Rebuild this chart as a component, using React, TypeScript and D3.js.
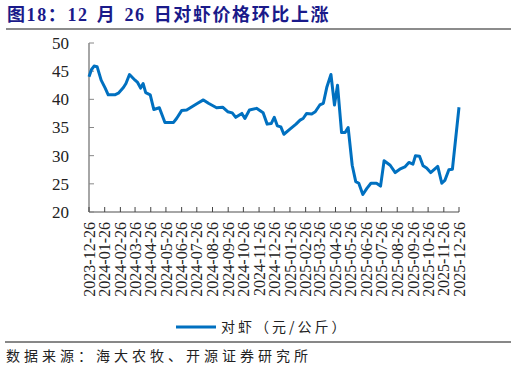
import React, { useRef, useEffect } from 'react';
import * as d3 from 'd3';

// 对虾价格（元/公斤），按日期读取的折线拐点
const dates = [
  '2023-12-26', '2023-12-31', '2024-01-05', '2024-01-11', '2024-01-19', '2024-01-27',
  '2024-02-02', '2024-02-15', '2024-02-22', '2024-03-03', '2024-03-08', '2024-03-15',
  '2024-03-26', '2024-03-31', '2024-04-06', '2024-04-11', '2024-04-16', '2024-04-25',
  '2024-05-02', '2024-05-13', '2024-05-24', '2024-06-10', '2024-06-16', '2024-06-26',
  '2024-07-06', '2024-07-26', '2024-08-08', '2024-08-18', '2024-09-03', '2024-09-15',
  '2024-09-25', '2024-10-04', '2024-10-11', '2024-10-23', '2024-10-29', '2024-11-07',
  '2024-11-21', '2024-12-04', '2024-12-12', '2024-12-20', '2024-12-26', '2025-01-01',
  '2025-01-08', '2025-01-14', '2025-01-26', '2025-02-07', '2025-02-15', '2025-02-21',
  '2025-02-28', '2025-03-10', '2025-03-17', '2025-03-26', '2025-04-02', '2025-04-09',
  '2025-04-17', '2025-04-24', '2025-04-30', '2025-05-08', '2025-05-15', '2025-05-21',
  '2025-05-29', '2025-06-05', '2025-06-11', '2025-06-19', '2025-06-27', '2025-07-05',
  '2025-07-16', '2025-07-24', '2025-07-31', '2025-08-12', '2025-08-22', '2025-08-31',
  '2025-09-10', '2025-09-18', '2025-09-26', '2025-10-01', '2025-10-09', '2025-10-16',
  '2025-10-23', '2025-10-31', '2025-11-14', '2025-11-22', '2025-11-28', '2025-12-06',
  '2025-12-13', '2025-12-26',
];

const prices = [
  44.0, 45.3, 45.9, 45.8, 43.4, 42.0,
  40.8, 40.8, 41.1, 42.1, 42.8, 44.4,
  43.4, 43.0, 42.0, 42.8, 41.2, 40.8,
  38.2, 38.5, 35.9, 35.9, 36.6, 38.0,
  38.1, 39.2, 39.9, 39.3, 38.5, 38.6,
  37.8, 37.6, 36.8, 37.5, 36.6, 38.1,
  38.4, 37.6, 35.6, 35.7, 36.8, 35.3,
  35.1, 33.8, 34.7, 35.6, 36.3, 36.6,
  37.5, 37.4, 37.8, 39.0, 39.3, 42.2,
  44.4, 39.0, 42.5, 34.1, 34.1, 35.0,
  28.3, 25.4, 25.1, 23.1, 24.2, 25.1,
  25.1, 24.6, 29.1, 28.3, 27.0, 27.6,
  28.0, 28.8, 28.5, 30.0, 29.9, 28.2,
  27.8, 27.0, 28.1, 25.1, 25.6, 27.5,
  27.6, 38.6,
];

const tickLabels = [
  '2023-12-26', '2024-01-26', '2024-02-26', '2024-03-26', '2024-04-26',
  '2024-05-26', '2024-06-26', '2024-07-26', '2024-08-26', '2024-09-26',
  '2024-10-26', '2024-11-26', '2024-12-26', '2025-01-26', '2025-02-26',
  '2025-03-26', '2025-04-26', '2025-05-26', '2025-06-26', '2025-07-26',
  '2025-08-26', '2025-09-26', '2025-10-26', '2025-11-26', '2025-12-26',
];

const yTicks = [20, 25, 30, 35, 40, 45, 50];

const title = '图18：12 月 26 日对虾价格环比上涨';
const seriesName = '对虾（元/公斤）';
const source = '数据来源：海大农牧、开源证券研究所';

const W = 516;
const H = 368;

const App: React.FC = () => {
  const svgRef = useRef<SVGSVGElement>(null);

  useEffect(() => {
    if (!svgRef.current) return;
    const parse = d3.timeParse('%Y-%m-%d');
    const svg = d3.select(svgRef.current);
    svg.selectAll('*').remove();

    const serif = '"Liberation Serif", "Times New Roman", serif';
    const cjk = '"Noto Sans CJK SC", sans-serif';
    const axisColor = '#888888';
    const lineColor = '#0070c0';

    const left = 89, right = 459, top = 43, bottom = 212;

    const x = d3.scaleTime()
      .domain([parse(tickLabels[0])!, parse(tickLabels[tickLabels.length - 1])!])
      .range([left, right]);
    const y = d3.scaleLinear().domain([20, 50]).range([bottom, top]);

    // title
    svg.append('text')
      .attr('x', 7)
      .attr('y', 21)
      .attr('fill', '#1a1a8a')
      .style('font-family', `"Liberation Serif", ${cjk}`)
      .style('font-weight', 'bold')
      .style('font-size', '18px')
      .style('letter-spacing', '1.6px')
      .style('word-spacing', '2px')
      .text(title);

    svg.append('line')
      .attr('x1', 6).attr('x2', 511)
      .attr('y1', 29).attr('y2', 29)
      .attr('stroke', '#8c8c8c')
      .attr('stroke-width', 2);

    // y axis
    const yAxis = svg.append('g');
    yAxis.append('line')
      .attr('x1', left).attr('x2', left)
      .attr('y1', top).attr('y2', bottom)
      .attr('stroke', axisColor).attr('stroke-width', 1.5);
    yAxis.selectAll('line.tick')
      .data(yTicks)
      .join('line')
      .attr('class', 'tick')
      .attr('x1', left).attr('x2', left + 5)
      .attr('y1', d => y(d)).attr('y2', d => y(d))
      .attr('stroke', axisColor).attr('stroke-width', 1);
    yAxis.selectAll('text')
      .data(yTicks)
      .join('text')
      .attr('x', 69)
      .attr('y', d => y(d))
      .attr('dy', '0.35em')
      .attr('text-anchor', 'end')
      .attr('fill', '#222')
      .style('font-family', serif)
      .style('font-size', '17px')
      .text(d => d);

    // x axis
    const tickDates = tickLabels.map(s => parse(s)!);
    const xAxis = svg.append('g');
    xAxis.append('line')
      .attr('x1', left).attr('x2', right)
      .attr('y1', bottom).attr('y2', bottom)
      .attr('stroke', axisColor).attr('stroke-width', 1.5);
    xAxis.selectAll('line.tick')
      .data(tickDates)
      .join('line')
      .attr('class', 'tick')
      .attr('x1', d => x(d)).attr('x2', d => x(d))
      .attr('y1', bottom).attr('y2', bottom - 5)
      .attr('stroke', '#444').attr('stroke-width', 1);
    xAxis.selectAll('text')
      .data(tickLabels)
      .join('text')
      .attr('transform', d => `translate(${x(parse(d)!)},222) rotate(-90)`)
      .attr('dy', '0.35em')
      .attr('text-anchor', 'end')
      .attr('fill', '#222')
      .style('font-family', serif)
      .style('font-size', '16px')
      .text(d => d);

    // series line
    const points = dates.map((d, i) => [parse(d)!, prices[i]] as [Date, number]);
    svg.append('path')
      .datum(points)
      .attr('fill', 'none')
      .attr('stroke', lineColor)
      .attr('stroke-width', 3)
      .attr('stroke-linejoin', 'round')
      .attr('d', d3.line<[Date, number]>()
        .x(d => x(d[0]))
        .y(d => y(d[1])));

    // legend
    svg.append('line')
      .attr('x1', 176).attr('x2', 216)
      .attr('y1', 327).attr('y2', 327)
      .attr('stroke', lineColor).attr('stroke-width', 3);
    svg.append('text')
      .attr('x', 221)
      .attr('y', 327)
      .attr('dy', '0.35em')
      .attr('fill', '#222')
      .style('font-family', cjk)
      .style('font-size', '14px')
      .style('letter-spacing', '3px')
      .text(seriesName);

    // footer
    svg.append('line')
      .attr('x1', 5).attr('x2', 511)
      .attr('y1', 342).attr('y2', 342)
      .attr('stroke', '#111').attr('stroke-width', 1);
    svg.append('text')
      .attr('x', 6)
      .attr('y', 356)
      .attr('dy', '0.35em')
      .attr('fill', '#222')
      .style('font-family', cjk)
      .style('font-size', '14px')
      .style('letter-spacing', '4px')
      .text(source);
  }, []);

  return (
    <div style={{ position: 'absolute', left: 0, top: 0, background: '#fff' }}>
      <svg ref={svgRef} width={W} height={H}></svg>
    </div>
  );
};

export default App;
